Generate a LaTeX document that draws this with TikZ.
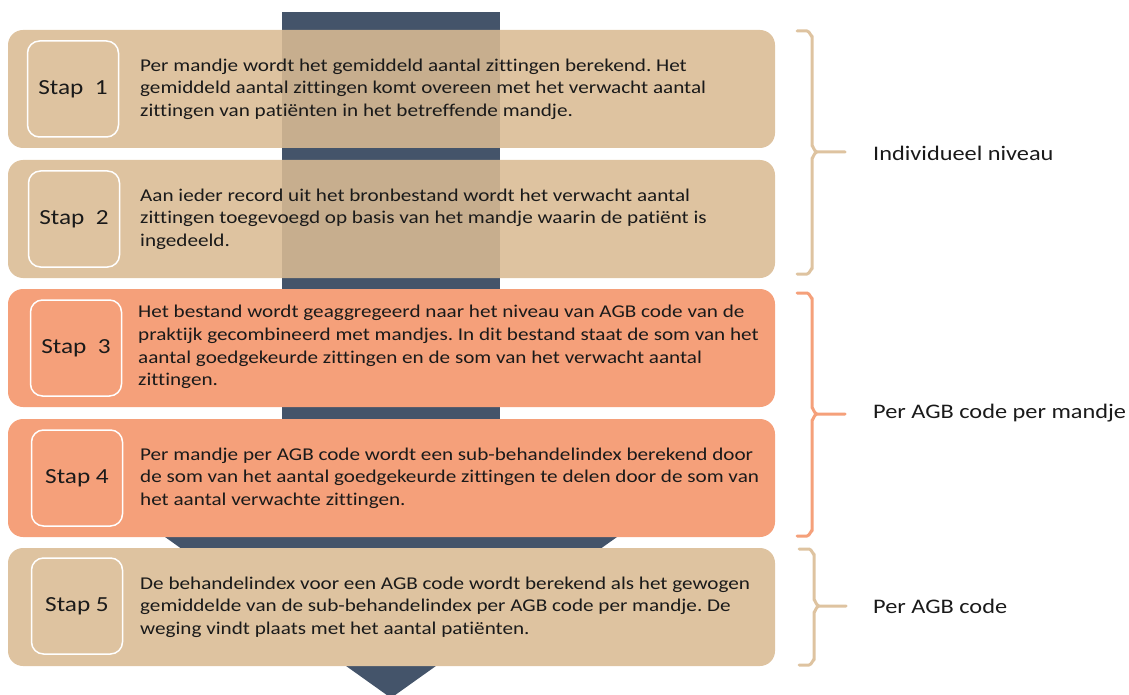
\documentclass[tikz,border=0pt]{standalone}
\usepackage{fontspec}
\setmainfont{Carlito}[FakeStretch=1.175,Ligatures=NoCommon]
\frenchspacing
\definecolor{bar}{HTML}{44546A}
\definecolor{tan}{HTML}{DEC3A0}
\definecolor{tanbase}{HTML}{DABB93}
\definecolor{salmon}{HTML}{F5A07A}
\definecolor{txt}{HTML}{1A1A1A}
\begin{document}
\begin{tikzpicture}[x=1pt,y=-1pt,
  stepbox/.style={rounded corners=15pt,minimum width=767pt,minimum height=118pt,inner sep=0pt,draw=none},
  stapbox/.style={rounded corners=12pt,minimum width=91pt,minimum height=96pt,draw=white,line width=1.5pt,font=\fontsize{21.5}{25}\selectfont,text=txt,inner sep=0pt},
  body/.style={anchor=west,align=left,font=\fontsize{18}{22.7}\selectfont,text=txt,inner sep=0pt},
  lvl/.style={anchor=west,font=\fontsize{20.7}{24}\selectfont,text=txt,inner sep=0pt},
  brace/.style={line width=3pt,line cap=round,line join=round}]
\useasboundingbox (0,0) rectangle (1129,695);
% central bar and arrowhead
\fill[bar] (282,12) rectangle (500,537);
\fill[bar] (165,537) -- (617,537) -- (391,698) -- cycle;
% step boxes
\node[stepbox,fill=tanbase,fill opacity=0.88] (b1) at (391.5,89) {};
\node[stepbox,fill=tanbase,fill opacity=0.88] (b2) at (391.5,219) {};
\node[stepbox,fill=salmon] (b3) at (391.5,348) {};
\node[stepbox,fill=salmon] (b4) at (391.5,478) {};
\node[stepbox,fill=tan] (b5) at (391.5,607) {};
% stap labels
\node[stapbox] (s1) at (73,89) {Stap\ \ 1};
\node[stapbox] (s2) at (74,219) {Stap\ \ 2};
\node[stapbox] (s3) at (76,348) {Stap\ \ 3};
\node[stapbox] (s4) at (77,478) {Stap 4};
\node[stapbox] (s5) at (77,606) {Stap 5};
% texts
\node[body] (t1) at (140,89) {Per mandje wordt het gemiddeld aantal zittingen berekend. Het\\gemiddeld aantal zittingen komt overeen met het verwacht aantal\\zittingen van patiënten in het betreffende mandje.};
\node[body] (t2) at (140,219) {Aan ieder record uit het bronbestand wordt het verwacht aantal\\zittingen toegevoegd op basis van het mandje waarin de patiënt is\\ingedeeld.};
\node[body] (t3) at (138,347) {Het bestand wordt geaggregeerd naar het niveau van AGB code van de\\praktijk gecombineerd met mandjes. In dit bestand staat de som van het\\aantal goedgekeurde zittingen en de som van het verwacht aantal\\zittingen.};
\node[body] (t4) at (140,478) {Per mandje per AGB code wordt een sub-behandelindex berekend door\\de som van het aantal goedgekeurde zittingen te delen door de som van\\het aantal verwachte zittingen.};
\node[body] (t5) at (140,607) {De behandelindex voor een AGB code wordt berekend als het gewogen\\gemiddelde van de sub-behandelindex per AGB code per mandje. De\\weging vindt plaats met het aantal patiënten.};
% braces
\draw[brace,draw=tan] (797,31) -- (807,31) to[out=0,in=-90] (812,36) -- (812,146) to[out=90,in=180] (817,152) -- (845,152)
  (817,152) to[out=180,in=-90] (812,158) -- (812,269) to[out=90,in=0] (807,274) -- (797,274);
\draw[brace,draw=salmon] (797,293) -- (807,293) to[out=0,in=-90] (812,298) -- (812,408) to[out=90,in=180] (817,414) -- (845,414)
  (817,414) to[out=180,in=-90] (812,420) -- (812,531) to[out=90,in=0] (807,536) -- (797,536);
\draw[brace,draw=tan] (799,549) -- (809,549) to[out=0,in=-90] (814,554) -- (814,600) to[out=90,in=180] (819,606) -- (846,606)
  (819,606) to[out=180,in=-90] (814,612) -- (814,660) to[out=90,in=0] (809,665) -- (799,665);
% level labels
\node[lvl] (l1) at (873,153) {Individueel niveau};
\node[lvl] (l2) at (873,413) {Per AGB code per mandje};
\node[lvl] (l3) at (873,606) {Per AGB code};
\end{tikzpicture}
\end{document}
